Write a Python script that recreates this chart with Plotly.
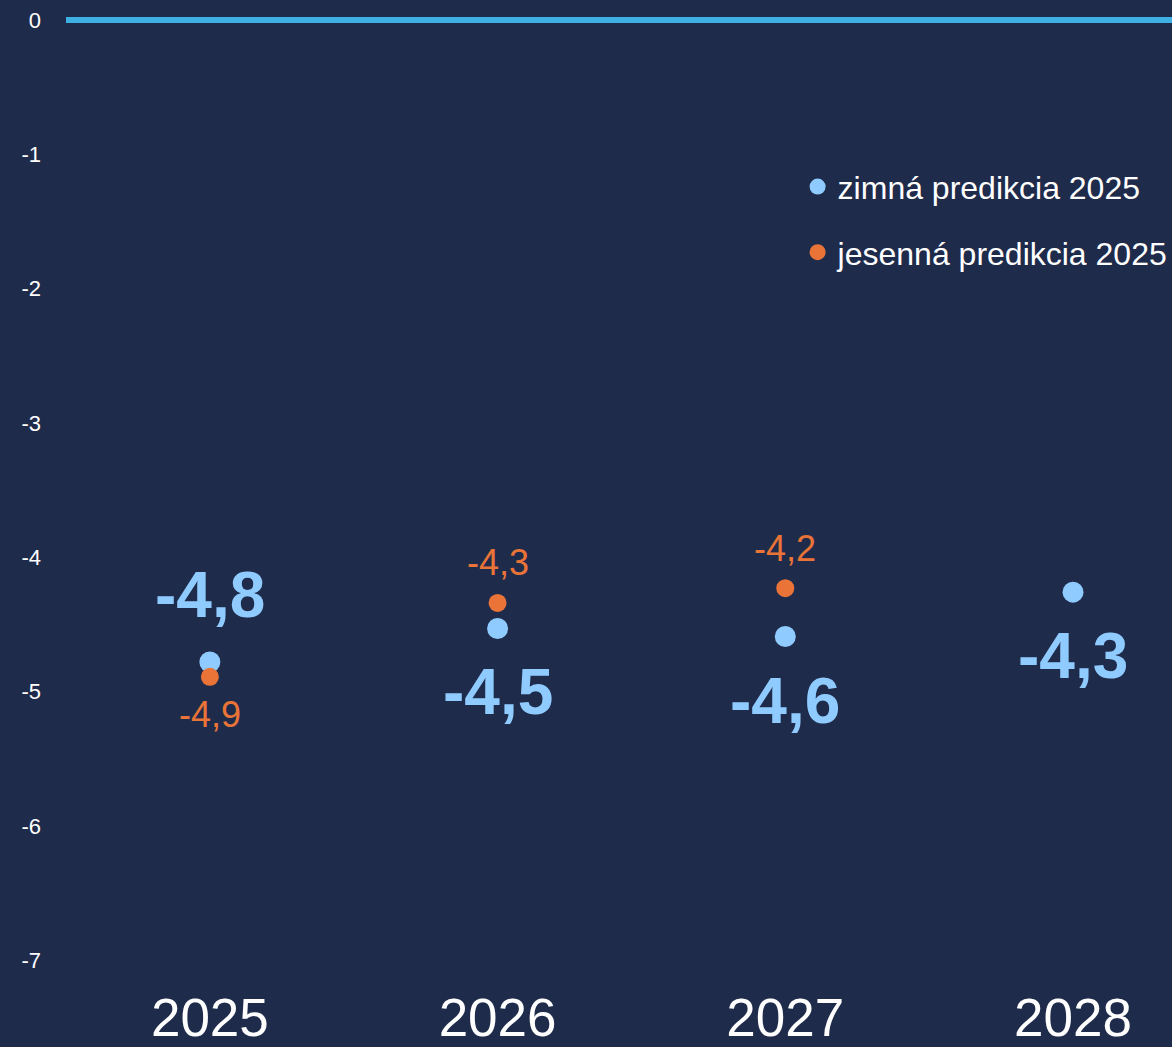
import plotly.graph_objects as go

years = [2025, 2026, 2027, 2028]
winter = [-4.78, -4.53, -4.59, -4.26]          # zimná predikcia 2025
autumn = [-4.89, -4.34, -4.23, None]           # jesenná predikcia 2025
y_ticks = [0, -1, -2, -3, -4, -5, -6, -7]
x_ticktext = ["2025", "2026", "2027", "2028"]

BG = "#1f2b4b"
BLUE = "#8fcbff"
ORANGE = "#ea7437"
ZERO = "#3fb0e4"
FONT = "Liberation Sans, Arial, sans-serif"

def fmt(v):
    return f"{v:.1f}".replace(".", ",")

fig = go.Figure()
fig.add_trace(go.Scatter(
    x=years, y=winter, mode="markers", name="zimná predikcia 2025",
    marker=dict(color=BLUE, size=21), legendgroup="a", showlegend=True,
))
fig.add_trace(go.Scatter(
    x=years, y=autumn, mode="markers", name="jesenná predikcia 2025",
    marker=dict(color=ORANGE, size=18), legendgroup="b", showlegend=True,
))

annotations = []
for yr, w, a in zip(years, winter, autumn):
    w_above = a is not None and w > a
    annotations.append(dict(
        x=yr, y=w, text=fmt(w), showarrow=False, xref="x", yref="y",
        yanchor="middle", yshift=67 if w_above else -64,
        font=dict(family=FONT, size=64, color=BLUE, weight="bold"),
    ))
    if a is not None:
        annotations.append(dict(
            x=yr, y=a, text=fmt(a), showarrow=False, xref="x", yref="y",
            yanchor="middle", yshift=-38 if w_above else 40,
            font=dict(family=FONT, size=36, color=ORANGE),
        ))

fig.update_layout(
    width=1172, height=1047,
    margin=dict(l=66, r=0, t=0, b=70, autoexpand=False),
    paper_bgcolor=BG, plot_bgcolor=BG,
    font=dict(family=FONT, color="white"),
    showlegend=True,
    legend=dict(
        x=0.6615, y=0.837, xanchor="left", yanchor="top",
        bgcolor="rgba(0,0,0,0)", font=dict(size=32, color="white"),
        tracegroupgap=21, traceorder="grouped", itemwidth=30,
    ),
    xaxis=dict(
        range=[2024.5, 2028.344], tickvals=years, ticktext=x_ticktext,
        showgrid=False, zeroline=False, showline=False, ticks="",
        tickfont=dict(size=53, color="white", family=FONT),
        ticklabelstandoff=5, automargin=False,
    ),
    yaxis=dict(
        range=[-7.125, 0.149], tickvals=y_ticks, ticktext=[str(t) for t in y_ticks],
        showgrid=False, zeroline=True, zerolinecolor=ZERO, zerolinewidth=6,
        showline=False, ticks="",
        tickfont=dict(size=22, color="white", family=FONT),
        ticklabelstandoff=24, automargin=False,
    ),
    annotations=annotations,
)

fig.write_html(
    "out.html",
    config={"displayModeBar": False},
    post_script="document.body.style.margin='0';document.body.style.overflow='hidden';",
)
